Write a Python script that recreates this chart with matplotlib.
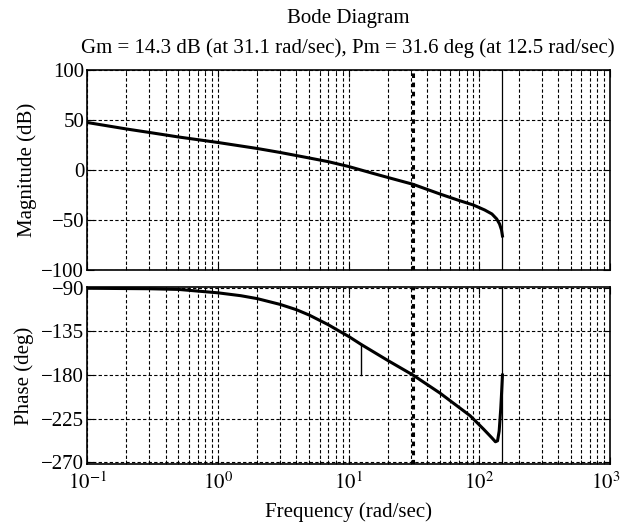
import numpy as np
import matplotlib
matplotlib.use("Agg")
import matplotlib.pyplot as plt
from matplotlib.ticker import LogLocator, NullFormatter, FixedLocator
from matplotlib.transforms import ScaledTranslation

plt.rcParams['font.family'] = ['Liberation Serif', 'DejaVu Serif']
plt.rcParams['mathtext.fontset'] = 'stix'

# ---- data ----
mag_freq = [0.1, 0.2, 0.3, 0.5, 1.0, 2.0, 3.0, 5.0, 7.0, 10.0, 15.0, 20.0, 31.1, 50.0,
            70.0, 90.0, 110.0, 125.0, 136.0, 143.0, 148.0, 150.5]
mag_db = [47.5, 41.0, 37.5, 33.0, 27.5, 21.5, 17.5, 12.0, 8.3, 3.5, -3.0, -7.5, -14.3,
          -24.0, -30.5, -35.0, -40.0, -44.0, -49.0, -54.0, -60.0, -66.0]

ph_freq = [0.1, 0.3, 0.5, 1.0, 1.5, 2.0, 3.0, 4.0, 5.0, 7.0, 8.6, 10.0, 12.5, 20.0,
           31.1, 50.0, 85.0, 108.0, 125.0, 133.0, 138.0, 142.0, 146.0, 148.0, 150.5]
ph_deg = [-90.3, -90.8, -91.5, -95.0, -98.0, -101.0, -107.0, -112.5, -118.0, -128.0,
          -135.0, -140.0, -148.4, -165.0, -180.0, -198.6, -222.0, -236.0, -245.0,
          -249.0, -248.0, -238.0, -215.0, -200.0, -180.0]

title = "Bode Diagram"
subtitle = "Gm = 14.3 dB (at 31.1 rad/sec), Pm = 31.6 deg (at 12.5 rad/sec)"
gm_freq = 31.1
pm_freq = 12.5
pm_deg = 31.6
notch_freq = 150.5

mag_ticks = [-100, -50, 0, 50, 100]
ph_ticks = [-270, -225, -180, -135, -90]

fs = 15
fig = plt.figure(figsize=(6.22, 5.30), dpi=100)
ax1 = fig.add_axes([0.1399, 0.4906, 0.8408, 0.3774])
ax2 = fig.add_axes([0.1399, 0.1245, 0.8408, 0.3340])

grid_kw = dict(color='black', linestyle=(0, (3, 2)), linewidth=0.8)

for ax in (ax1, ax2):
    ax.set_xscale('log')
    ax.set_xlim(0.1, 1000)
    ax.xaxis.set_major_locator(LogLocator(base=10, numticks=10))
    ax.xaxis.set_minor_locator(LogLocator(base=10, subs=np.arange(2, 10), numticks=20))
    ax.xaxis.set_minor_formatter(NullFormatter())
    ax.grid(True, which='both', axis='x', **grid_kw)
    ax.grid(True, which='major', axis='y', **grid_kw)
    ax.tick_params(which='both', direction='in', top=True, right=True,
                   labelsize=fs, colors='black')
    ax.tick_params(which='major', length=5, pad=2)
    ax.tick_params(which='minor', length=3)
    for s in ax.spines.values():
        s.set_linewidth(1.2)
    ax.axvline(gm_freq, color='black', linestyle=(0, (1.5, 1.5)), linewidth=2.2, zorder=3)
    ax.axvline(notch_freq, color='black', linewidth=0.9, zorder=3)

ax1.plot(mag_freq, mag_db, color='black', linewidth=2.2, zorder=4)
ax1.set_ylim(-100, 100)
ax1.yaxis.set_major_locator(FixedLocator(mag_ticks))
ax1.set_yticklabels(['\u2212100', '\u221250', '0', '50', '100'])
ax1.tick_params(axis='x', labelbottom=False)
ax1.set_ylabel('Magnitude (dB)', fontsize=fs, labelpad=3)

ax2.plot(ph_freq, ph_deg, color='black', linewidth=2.2, zorder=4)
ax2.plot([pm_freq, pm_freq], [-180, -180 + pm_deg], color='black', linewidth=1.0, zorder=4)
ax2.set_ylim(-272, -89)
ax2.yaxis.set_major_locator(FixedLocator(ph_ticks))
ax2.set_yticklabels(['\u2212270', '\u2212225', '\u2212180', '\u2212135', '\u221290'])
ax2.set_xticks([0.1, 1, 10, 100, 1000])
ax2.set_xticklabels([r'$10^{-1}$', r'$10^{0}$', r'$10^{1}$', r'$10^{2}$', r'$10^{3}$'])
ax2.tick_params(axis='x', pad=6)
ax2.set_ylabel('Phase (deg)', fontsize=fs, labelpad=5)
ax2.set_xlabel('Frequency (rad/sec)', fontsize=fs, labelpad=6)

last = ax2.get_xticklabels()[-1]
last.set_ha('right')
last.set_transform(last.get_transform() + ScaledTranslation(10 / 100, 0, fig.dpi_scale_trans))

fig.text(0.5595, 1 - 18 / 530, title, ha='center', va='center', fontsize=fs)
fig.text(0.5595, 1 - 48 / 530, subtitle, ha='center', va='center', fontsize=fs)

fig.savefig('out.png', dpi=100)
